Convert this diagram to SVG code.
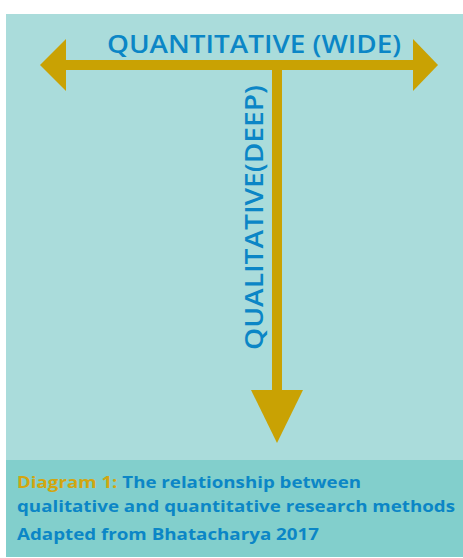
<svg xmlns="http://www.w3.org/2000/svg" width="463" height="558" viewBox="0 0 463 558">
  <style>
    .axis { fill: #C9A203; }
    .label { font-family: "Open Sans", "Liberation Sans", sans-serif; font-weight: 600; fill: #0B86C6; }
    .cap { font-family: "Open Sans", "Liberation Sans", sans-serif; font-weight: 700; font-size: 16.5px; fill: #0B86C6; }
    .gold { fill: #D2A610; }
  </style>
  <rect x="0" y="0" width="463" height="558" fill="#FFFFFF"/>
  <g id="panel">
    <rect x="6" y="14" width="457" height="446" fill="#AADCDB"/>
  </g>
  <g id="connectors">
    <!-- horizontal double arrow -->
    <rect class="axis" x="64" y="60" width="351" height="10"/>
    <polygon class="axis" points="40,65 66,39 66,91"/>
    <polygon class="axis" points="438,65 413,39 413,91"/>
    <!-- vertical arrow -->
    <rect class="axis" x="272" y="65" width="10" height="327"/>
    <polygon class="axis" points="251,390 303,390 277,443"/>
  </g>
  <g id="quantitative">
    <text class="label" x="107" y="53" font-size="25" textLength="294" lengthAdjust="spacingAndGlyphs">QUANTITATIVE (WIDE)</text>
  </g>
  <g id="qualitative">
    <text class="label" transform="translate(263,350) rotate(-90)" x="0" y="0" font-size="26" textLength="265" lengthAdjust="spacingAndGlyphs">QUALITATIVE(DEEP)</text>
  </g>
  <g id="caption">
    <rect x="6" y="460" width="457" height="97" fill="#82CFCC"/>
    <text class="cap" x="17" y="488" textLength="344" lengthAdjust="spacingAndGlyphs"><tspan class="gold">Diagram 1:</tspan> The relationship between</text>
    <text class="cap" x="17" y="512" textLength="438" lengthAdjust="spacingAndGlyphs">qualitative and quantitative research methods</text>
    <text class="cap" x="17" y="540" textLength="302" lengthAdjust="spacingAndGlyphs">Adapted from Bhatacharya 2017</text>
  </g>
</svg>
